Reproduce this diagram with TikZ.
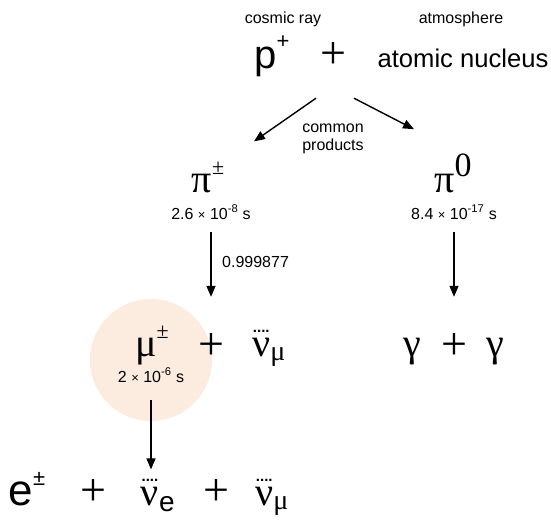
\documentclass[tikz,border=0pt]{standalone}
\usepackage{fontspec}
\setmainfont{Liberation Sans}
\newfontfamily\grk{Liberation Serif}
\usepackage{tikz}
\usetikzlibrary{arrows.meta, positioning}

\definecolor{muglow}{HTML}{FCEBDF}
% neutrino with a dotted bar on top
\newcommand{\dnu}{\hbox{\grk\ooalign{ν\cr\hidewidth\raisebox{0.6em}{\fontsize{15}{15}\selectfont\rmfamily\bfseries....}\hidewidth\cr}}}
% raised charge sign
\newcommand{\chg}[1]{\raisebox{0.45em}{\fontsize{22}{22}\selectfont #1}}
\newcommand{\tms}{{\fontsize{13}{13}\selectfont×}}

\begin{document}
\begin{tikzpicture}[x=1pt,y=-1pt,inner sep=0pt,
    small/.style={font=\fontsize{16}{18}\selectfont},
    big/.style={font=\fontsize{40}{42}\selectfont,anchor=base},
    grkbig/.style={font=\fontsize{40}{42}\selectfont\grk,anchor=base},
    plus/.style={font=\fontsize{46}{48}\selectfont\grk,anchor=base},
    arr/.style={-{Triangle[length=11pt,width=9pt]},line width=1.4pt}]
    \useasboundingbox (0,0) rectangle (551,525);

    \fill[muglow] (151,360) circle (61pt);

    \node[small,anchor=base] (cray) at (283,23) {cosmic ray};
    \node[small,anchor=base] (atm) at (461,23) {atmosphere};
    \node[big] (prot) at (272,68) {p\raisebox{0.5em}{\fontsize{22}{22}\selectfont +}};
    \node[plus] (plus1) at (333,68) {+};
    \node[font=\fontsize{25.6}{28}\selectfont,anchor=base] (nucl) at (463,67) {atomic nucleus};
    \node[small,align=center] (prod) at (333,139) {common\\products};

    \node[grkbig] (pipm) at (208,192) {π\chg{±}};
    \node[small,anchor=base] (tpipm) at (211,219) {2.6 \tms{} 10\textsuperscript{-8} s};
    \node[grkbig] (pi0) at (453,192) {π\raisebox{0.4em}{\fontsize{34}{34}\selectfont 0}};
    \node[small,anchor=base] (tpi0) at (454,219) {8.4 \tms{} 10\textsuperscript{-17} s};
    \node[small,anchor=base west] (br) at (222,267) {0.999877};

    \node[grkbig] (mu) at (152,356) {μ\chg{±}};
    \node[small,anchor=base] (tmu) at (151,382) {2 \tms{} 10\textsuperscript{-6} s};
    \node[plus] (plus2) at (211,359) {+};
    \node[grkbig] (numu) at (269,356) {\dnu\textsubscript{μ}};

    \node[grkbig] (gam1) at (412,356) {γ};
    \node[plus] (plus3) at (454,359) {+};
    \node[grkbig] (gam2) at (495,356) {γ};

    \node[font=\fontsize{44}{46}\selectfont,anchor=base] (el) at (27,505) {e\chg{±}};
    \node[plus] (plus4) at (93,505) {+};
    \node[grkbig] (nue) at (158,505) {\dnu\textsubscript{\rmfamily e}};
    \node[plus] (plus5) at (216,505) {+};
    \node[grkbig] (numu2) at (272,505) {\dnu\textsubscript{μ}};

    \draw[arr] ([shift={(-17,30)}]plus1.south) -- ([shift={(46,-20)}]pipm.north);
    \draw[arr] ([shift={(21,30)}]plus1.south) -- ([shift={(-39,-24)}]pi0.north);
    \draw[arr] ([yshift=-13pt]tpipm.south) -- ([yshift=36pt]plus2.north);
    \draw[arr] ([yshift=-13pt]tpi0.south) -- ([yshift=36pt]plus3.north);
    \draw[arr] ([yshift=-18pt]tmu.south) -- ([yshift=17pt]tmu.south |- nue.north);
\end{tikzpicture}
\end{document}
